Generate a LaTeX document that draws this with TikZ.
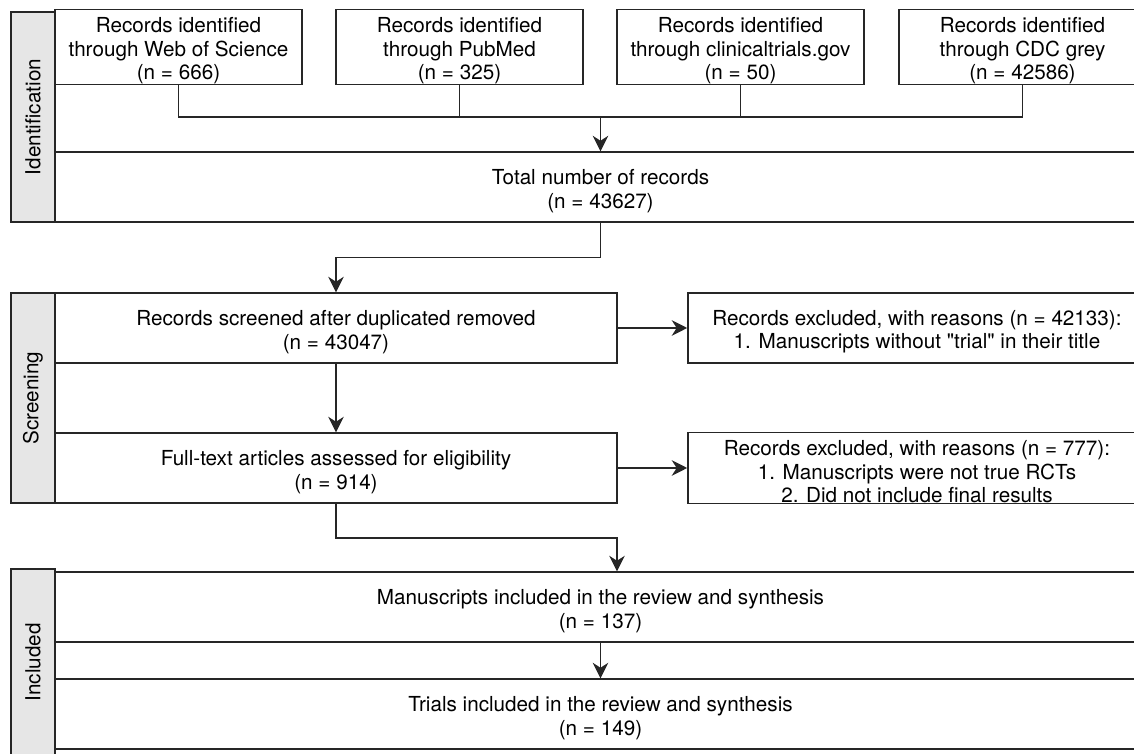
\documentclass[tikz,border=0pt]{standalone}
\usepackage{fontspec}
\setmainfont{TeX Gyre Heros}[Ligatures=TeXOff]
\usetikzlibrary{arrows.meta}

\definecolor{linecol}{HTML}{262626}
\definecolor{lanegrey}{HTML}{E6E6E6}

% lowers the text a little inside its box
\newcommand{\toprule}{\rule{0pt}{16pt}}

\tikzset{
    box/.style={draw=linecol, line width=1pt, fill=white, inner sep=0pt, align=center,
        minimum height=1.75cm, font=\fontsize{14.7}{17}\selectfont},
    lane/.style={draw=linecol, line width=1pt, fill=lanegrey, rotate=90, inner sep=0pt,
        minimum height=1.1cm, font=\fontsize{14.7}{17}\selectfont},
    link/.style={draw=linecol, line width=1pt},
    arr/.style={link, -{Stealth[length=11pt,width=11pt,inset=3.5pt]}}
}

\begin{document}
\begin{tikzpicture}[x=0.025cm,y=-0.025cm]
    \useasboundingbox (0,0) rectangle (1134,754);
    \clip (0,0) rectangle (1134,754);

    % Lane labels
    \node[lane, minimum width=5.25cm] (laneid) at (33,117) {Identification};
    \node[lane, minimum width=5.25cm] (lanescr) at (33,398) {Screening};
    \node[lane, minimum width=4.675cm] (laneinc) at (33,662.5) {Included};

    % Identification
    \node[box, minimum width=6.175cm] (wos) at (178.5,47) {\toprule Records identified\\through Web of Science\\(n = 666)};
    \node[box, minimum width=6.175cm] (pubmed) at (459.5,47) {\toprule Records identified\\through PubMed\\(n = 325)};
    \node[box, minimum width=6.175cm] (ctgov) at (740.5,47) {\toprule Records identified\\through clinicaltrials.gov\\(n = 50)};
    \node[box, minimum width=6.175cm] (cdc) at (1022.5,47) {\toprule Records identified\\through CDC grey\\(n = 42586)};
    \node[box, minimum width=27.275cm] (total) at (600.5,187) {\toprule Total number of records\\(n = 43627)};

    % Screening
    \node[box, minimum width=14.05cm] (screened) at (336,328) {\toprule Records screened after duplicated removed\\(n = 43047)};
    \node[box, minimum width=14.05cm] (fulltext) at (336,468) {\toprule Full-text articles assessed for eligibility\\(n = 914)};
    \node[box, minimum width=11.45cm] (excl1) at (917,328) {\toprule Records excluded, with reasons (n = 42133):\\1. Manuscripts without "trial" in their title};
    \node[box, minimum width=11.45cm] (excl2) at (917,468) {\toprule Records excluded, with reasons (n = 777):\\1. Manuscripts were not true RCTs\\2. Did not include final results};

    % Included
    \node[box, minimum width=27.275cm] (manus) at (600.5,607) {\toprule Manuscripts included in the review and synthesis\\(n = 137)};
    \node[box, minimum width=27.275cm] (trials) at (600.5,714) {\toprule Trials included in the review and synthesis\\(n = 149)};

    % Merge the four sources
    \coordinate (join) at (600.5,117);
    \draw[link] (wos.south) -- (wos.south |- join) -- (cdc.south |- join) -- (cdc.south);
    \draw[link] (pubmed.south) -- (pubmed.south |- join);
    \draw[link] (ctgov.south) -- (ctgov.south |- join);
    \draw[arr] (join) -- (total.north);

    % Flow down
    \coordinate (bend1) at (600.5,257.5);
    \draw[arr] (total.south) -- (bend1) -| (screened.north);
    \draw[arr] (screened.south) -- (fulltext.north);
    \draw[arr] (screened.east) -- (excl1.west);
    \draw[arr] (fulltext.east) -- (excl2.west);
    \coordinate (bend2) at (617,538);
    \draw[arr] (fulltext.south) |- (bend2) -- (bend2 |- manus.north);
    \draw[arr] (manus.south) -- (trials.north);
\end{tikzpicture}
\end{document}
